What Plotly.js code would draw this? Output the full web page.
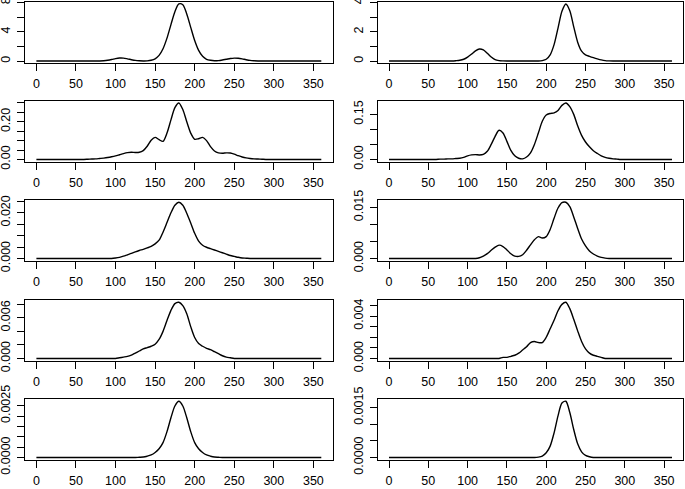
<!DOCTYPE html>
<html><head><meta charset="utf-8">
<script src="https://cdn.plot.ly/plotly-3.0.1.min.js"></script>
<style>html,body{margin:0;padding:0;background:#fff}#chart{width:685px;height:489px}</style>
</head><body><div id="chart"></div>
<script>
// x grid (degrees)
const angle = [0,5,10,15,20,25,30,35,40,45,50,55,60,65,70,75,80,85,90,95,100,105,110,115,120,125,130,135,140,145,150,155,160,165,170,175,180,185,190,195,200,205,210,215,220,225,230,235,240,245,250,255,260,265,270,275,280,285,290,295,300,305,310,315,320,325,330,335,340,345,350,355,360];

// Density curves (one per panel)
const densA = [0,0,0,0,0,0,0,0,0,0,0,0,0,0,0,0,
  0.01,0.04,0.10,0.20,0.33,0.41,0.40,0.30,0.18,0.08,
  0.03,0.01,0.02,0.10,0.30,0.77,1.68,3.13,4.98,6.75,
  7.80,7.70,6.44,4.60,2.80,1.45,0.64,0.24,0.10,0.04,
  0.06,0.14,0.24,0.34,0.40,0.37,0.29,0.18,0.09,0.04,
  0.01,
  0,0,0,0,0,0,0,0,0,0,0,0,0,0,0,0];
const densB = [0,0,0,0,0,0,0,0,0,0,0,0,0,0,0,0,0,
  0.02,0.05,0.12,0.27,0.47,0.69,0.82,0.76,0.53,0.27,0.09,0.03,0.01,
  0,0,0,0,0,0,0,0,0,
  0.03,0.12,0.42,1.12,2.25,3.40,3.90,3.44,2.34,1.29,0.67,0.42,0.32,0.23,0.15,0.08,0.03,0.01,
  0,0,0,0,0,0,0,0,0,0,0,0,0,0,0,0];
const densC = [0,0,0,0,0,0,0,0,0,0,0,0,0,
  0.001,0.002,0.003,0.005,0.007,0.010,0.014,0.019,0.025,0.031,
  0.036,0.038,0.037,0.038,0.047,0.070,0.102,0.117,0.105,0.096,
  0.140,0.210,0.275,0.300,0.265,0.200,0.140,0.107,0.110,0.117,
  0.100,0.068,0.045,0.035,0.033,0.035,0.034,0.028,0.020,0.013,
  0.008,0.005,0.003,0.002,0.001,
  0,0,0,0,0,0,0,0,0,0,0,0,0,0,0];
const densD = [0,0,0,0,0,0,0,0,0,0,0,0,0,
  0.001,0.001,0.002,0.002,0.003,0.004,0.007,0.012,0.015,0.016,
  0.015,0.017,0.027,0.050,0.077,0.097,0.088,0.060,0.030,0.012,
  0.004,0.002,0.008,0.022,0.050,0.088,0.127,0.148,0.153,0.155,
  0.163,0.180,0.188,0.176,0.150,0.112,0.080,0.058,0.042,0.029,
  0.020,0.012,0.007,0.004,0.002,0.001,
  0,0,0,0,0,0,0,0,0,0,0,0,0,0];
const densE = [0,0,0,0,0,0,0,0,0,0,0,0,0,0,0,0,0,0,0,0,
  0.0002,0.0005,0.0010,0.0016,0.0022,0.0029,0.0035,0.0040,0.0046,0.0053,
  0.0064,0.0080,0.0115,0.0157,0.0200,0.0233,0.0246,0.0233,0.0198,0.0155,
  0.0110,0.0076,0.0058,0.0049,0.0043,0.0037,0.0031,0.0025,0.0019,0.0013,
  0.0009,0.0005,0.0002,0.0001,
  0,0,0,0,0,0,0,0,0,0,0,0,0,0,0,0,0,0,0];
const densF = [0,0,0,0,0,0,0,0,0,0,0,0,0,0,0,0,0,0,0,0,0,0,0,
  0.0002,0.0007,0.0014,0.0024,0.0033,0.0039,0.0035,0.0025,0.0014,0.0007,
  0.0006,0.0011,0.0024,0.0040,0.0055,0.0064,0.0060,0.0064,0.0085,0.0118,
  0.0148,0.0164,0.0165,0.0152,0.0122,0.0088,0.0057,0.0037,0.0022,0.0013,
  0.0007,0.0003,0.0001,
  0,0,0,0,0,0,0,0,0,0,0,0,0,0,0,0,0];
const densG = [0,0,0,0,0,0,0,0,0,0,0,0,0,0,0,0,0,0,0,0,0,
  0.0001,0.0002,0.0003,0.0005,0.0008,0.0011,0.0014,0.0016,0.0018,0.0021,
  0.0028,0.0040,0.0056,0.0071,0.0081,0.0083,0.0078,0.0066,0.0047,0.0031,
  0.0022,0.0018,0.0015,0.0013,0.0010,0.0007,0.0004,0.0002,0.0001,
  0,0,0,0,0,0,0,0,0,0,0,0,0,0,0,0,0,0,0,0,0,0,0];
const densH = [0,0,0,0,0,0,0,0,0,0,0,0,0,0,0,0,0,0,0,0,0,0,0,0,0,0,0,0,0,
  0.0001,0.0001,0.0002,0.0003,0.0005,0.0008,0.0011,0.0015,0.0016,0.0015,
  0.0015,0.0020,0.0028,0.0036,0.0045,0.0051,0.0053,0.0047,0.0037,0.0026,
  0.0016,0.0009,0.0005,0.0003,0.0002,0.0001,
  0,0,0,0,0,0,0,0,0,0,0,0,0,0,0,0,0,0];
const densI = [0,0,0,0,0,0,0,0,0,0,0,0,0,0,0,0,0,0,0,0,0,0,0,0,0,0,
  0.00001,0.00002,0.00006,0.00012,0.00024,0.00042,0.00072,0.00125,0.00192,0.00249,
  0.00272,0.00249,0.00192,0.00125,0.00072,0.00042,0.00024,0.00012,0.00006,0.00002,
  0.00001,
  0,0,0,0,0,0,0,0,0,0,0,0,0,0,0,0,0,0,0,0,0,0,0,0,0,0];
const densJ = [0,0,0,0,0,0,0,0,0,0,0,0,0,0,0,0,0,0,0,0,0,0,0,0,0,0,0,0,0,0,0,0,0,0,0,0,0,0,
  0.00001,0.00004,0.00014,0.00034,0.00074,0.00125,0.00164,0.00169,0.00135,0.00084,
  0.00041,0.00017,0.00006,0.00002,
  0,0,0,0,0,0,0,0,0,0,0,0,0,0,0,0,0,0,0,0,0];

// x tick labels
const xTickVals = [0,50,100,150,200,250,300,350];
const xTickText = ['0','50','100','150','200','250','300','350'];

// y ticks and shown labels per panel
const yTicksA = [0,2,4,6,8];                  const yLabA = ['0','','4','','8'];
const yTicksB = [0,1,2,3,4];                  const yLabB = ['0','','2','','4'];
const yTicksC = [0,0.05,0.10,0.15,0.20,0.25,0.30]; const yLabC = ['0.00','','','','0.20','',''];
const yTicksD = [0,0.05,0.10,0.15];           const yLabD = ['0.00','','','0.15'];
const yTicksE = [0,0.005,0.010,0.015,0.020,0.025]; const yLabE = ['0.000','','','','0.020',''];
const yTicksF = [0,0.005,0.010,0.015];        const yLabF = ['0.000','','','0.015'];
const yTicksG = [0,0.002,0.004,0.006,0.008];  const yLabG = ['0.000','','','0.006',''];
const yTicksH = [0,0.001,0.002,0.003,0.004,0.005]; const yLabH = ['0.000','','','','0.004',''];
const yTicksI = [0,0.0005,0.0010,0.0015,0.0020,0.0025]; const yLabI = ['0.0000','','','','','0.0025'];
const yTicksJ = [0,0.0005,0.0010,0.0015];     const yLabJ = ['0.0000','','','0.0015'];

const panels = [
  {y: densA, tv: yTicksA, tt: yLabA}, {y: densB, tv: yTicksB, tt: yLabB},
  {y: densC, tv: yTicksC, tt: yLabC}, {y: densD, tv: yTicksD, tt: yLabD},
  {y: densE, tv: yTicksE, tt: yLabE}, {y: densF, tv: yTicksF, tt: yLabF},
  {y: densG, tv: yTicksG, tt: yLabG}, {y: densH, tv: yTicksH, tt: yLabH},
  {y: densI, tv: yTicksI, tt: yLabI}, {y: densJ, tv: yTicksJ, tt: yLabJ}
];

// layout geometry (pixels)
const W = 685, H = 489;
const colPx = [[25, 332.7], [377.7, 683.3]];
const rowPx = [[1.7, 63.3], [100.7, 161.7], [200, 260.7], [300, 360.7], [399, 459.7]];

const font = {family: '"Liberation Sans", Arial, Helvetica, sans-serif', size: 12.5, color: '#000'};
const traces = [];
const layout = {
  width: W, height: H, margin: {l: 0, r: 0, t: 0, b: 0},
  paper_bgcolor: '#fff', plot_bgcolor: '#fff', showlegend: false, font: font
};

panels.forEach((p, i) => {
  const n = i + 1, sfx = n === 1 ? '' : String(n);
  const col = i % 2, row = Math.floor(i / 2);
  traces.push({
    x: angle, y: p.y, type: 'scatter', mode: 'lines',
    line: {color: '#000', width: 1.4, shape: 'spline', smoothing: 0.8},
    xaxis: 'x' + sfx, yaxis: 'y' + sfx, hoverinfo: 'skip'
  });
  const M = Math.max(...p.y);
  layout['xaxis' + sfx] = {
    domain: [colPx[col][0] / W, colPx[col][1] / W], anchor: 'y' + sfx,
    range: [-14.4, 374.4], tickvals: xTickVals, ticktext: xTickText,
    ticks: 'outside', ticklen: 7, tickwidth: 1, tickcolor: '#000',
    showline: true, mirror: true, linecolor: '#000', linewidth: 1,
    showgrid: false, zeroline: false, tickfont: font, ticklabelstandoff: 2,
    ticklabeloverflow: 'allow'
  };
  layout['yaxis' + sfx] = {
    domain: [1 - rowPx[row][1] / H, 1 - rowPx[row][0] / H], anchor: 'x' + sfx,
    range: [-0.04 * M, 1.04 * M], tickvals: p.tv, ticktext: p.tt, tickangle: -90,
    ticks: 'outside', ticklen: 7, tickwidth: 1, tickcolor: '#000',
    showline: true, mirror: true, linecolor: '#000', linewidth: 1,
    showgrid: false, zeroline: false, tickfont: font, ticklabelstandoff: 2,
    ticklabeloverflow: 'allow'
  };
});

Plotly.newPlot('chart', traces, layout, {displayModeBar: false, staticPlot: true});
</script>
</body></html>
